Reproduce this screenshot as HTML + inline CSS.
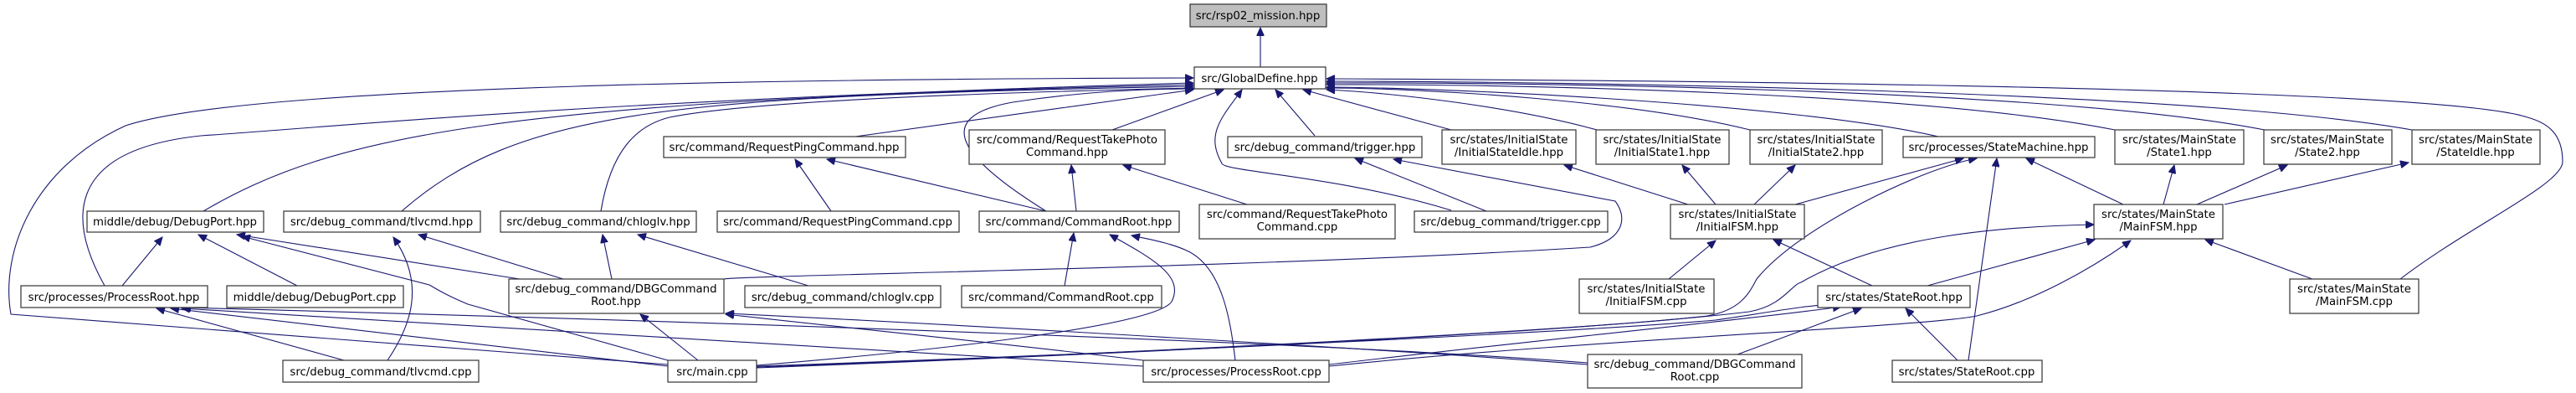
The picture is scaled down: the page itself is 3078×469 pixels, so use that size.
<!DOCTYPE html>
<html><head><meta charset="utf-8">
<style>
html,body{margin:0;padding:0;background:#fff;}
svg{display:block;}
text{font-family:"DejaVu Sans","Liberation Sans",sans-serif;font-size:13.3px;fill:#000;}
.n{fill:#fff;stroke:#333;stroke-width:1.2;}
.e{fill:none;stroke:#191970;stroke-width:1.1;}
</style></head><body>
<svg width="3078" height="469" viewBox="0 0 3078 469" xmlns="http://www.w3.org/2000/svg">
<defs>
<marker id="a" markerWidth="11" markerHeight="9" refX="10" refY="4.5" orient="auto" markerUnits="userSpaceOnUse">
<path d="M0,0 L10,4.5 L0,9 Z" fill="#191970" stroke="#191970"/>
</marker>
</defs>
<g class="e" marker-end="url(#a)">
<path d="M1506,80 L1506,33"/>
<!-- to GlobalDefine left -->
<path d="M798,435 L13,375 C0,300 40,200 150,150 C300,100 1000,94 1426,93"/>
<path d="M125,341 C85,270 70,180 240,162 C420,150 700,120 1426,99"/>
<path d="M243,252 C400,160 600,120 1426,101"/>
<path d="M480,252 C620,130 800,115 1426,103"/>
<path d="M718,252 C730,180 760,150 800,140 C900,120 1200,110 1426,105"/>
<path d="M1022,163 L1426,107"/>
<path d="M1250,252 C1150,190 1110,140 1210,122 C1300,108 1380,106 1426,106"/>
<path d="M1329,155 L1462,107"/>
<path d="M1734,251 C1600,210 1462,205 1460,195 C1440,160 1460,140 1484,107"/>
<path d="M1571,162 L1524,107"/>
<path d="M1734,155 L1557,107"/>
<!-- to GlobalDefine right -->
<path d="M1908,155 C1800,125 1650,110 1585,107"/>
<path d="M2091,155 C1950,120 1700,105 1585,105"/>
<path d="M2316,163 C2150,125 1750,105 1585,104"/>
<path d="M2527,155 C2300,110 1800,100 1585,101"/>
<path d="M2706,155 C2450,105 1800,98 1585,99"/>
<path d="M2882,155 C2600,105 1800,97 1585,97"/>
<path d="M2868,333 C2950,270 3062,220 3062,193 C3062,160 3045,147 3020,140 C2900,100 1800,95 1585,94"/>
<!-- second level -->
<path d="M993,252 L950,190"/>
<path d="M1250,252 L988,190"/>
<path d="M1286,252 L1280,197"/>
<path d="M1490,244 L1342,197"/>
<path d="M1776,252 L1619,189"/>
<path d="M865,333 C900,328 1500,320 1900,295 C1940,285 1945,260 1930,240 L1665,190"/>
<path d="M2017,244 L1869,197"/>
<path d="M2050,244 L2010,197"/>
<path d="M2096,244 L2145,197"/>
<path d="M2145,244 L2346,189"/>
<path d="M1994,333 L2050,287"/>
<path d="M2537,244 L2421,189"/>
<path d="M2585,244 L2598,197"/>
<path d="M2625,244 L2733,197"/>
<path d="M2658,244 L2878,194"/>
<path d="M2237,341 L2119,286"/>
<path d="M2303,341 L2503,286"/>
<path d="M2763,333 L2635,286"/>
<path d="M2339,430 L2277,368"/>
<path d="M2352,430 L2386,189"/>
<path d="M2076,423 L2224,368"/>
<!-- main.cpp / ProcessRoot.cpp to state stuff -->
<path d="M904,437 C1400,420 1900,395 2050,382 C2100,375 2170,362 2190,364"/>
<path d="M904,438 C1400,420 1900,393 2040,377 C2080,370 2090,350 2099,333 C2150,270 2300,200 2362,189"/>
<path d="M904,439 C1400,420 1900,395 2090,372 C2130,365 2140,340 2152,337 C2250,280 2400,270 2502,268"/>
<path d="M1588,435 C1800,410 2100,380 2200,366"/>
<path d="M1588,437 C1900,405 2300,390 2362,377 C2430,360 2500,320 2546,287"/>
<!-- left side -->
<path d="M146,341 L194,283"/>
<path d="M355,341 L237,280"/>
<path d="M621,333 L283,280"/>
<path d="M798,430 L559,363 C540,355 530,350 513,340 L289,282"/>
<path d="M673,333 L500,280"/>
<path d="M463,430 C490,390 510,340 470,283"/>
<path d="M731,333 L720,280"/>
<path d="M966,341 L762,280"/>
<path d="M834,430 L765,375"/>
<path d="M1897,435 C1700,420 1200,390 867,374"/>
<path d="M1366,430 C1200,410 1000,390 867,375"/>
<path d="M1272,341 L1283,278"/>
<path d="M904,436 C1100,420 1380,390 1400,360 C1415,330 1380,310 1326,280"/>
<path d="M1476,430 C1470,380 1460,320 1420,300 C1400,290 1370,285 1352,281"/>
<path d="M411,430 L187,368"/>
<path d="M798,437 L204,368"/>
<path d="M1366,437 L217,368"/>
<path d="M1897,433 C1600,410 900,385 218,367"/>
</g>
<g>
<rect class="n" x="1422" y="5" width="163" height="27" style="fill:#bfbfbf"/><text x="1503" y="23" text-anchor="middle">src/rsp02_mission.hpp</text>
<rect class="n" x="1427" y="80" width="157" height="26"/><text x="1505" y="98" text-anchor="middle">src/GlobalDefine.hpp</text>

<rect class="n" x="793" y="163" width="289" height="25"/><text x="937" y="180" text-anchor="middle">src/command/RequestPingCommand.hpp</text>
<rect class="n" x="1158" y="155" width="234" height="41"/><text x="1275" y="171" text-anchor="middle">src/command/RequestTakePhoto</text><text x="1275" y="186" text-anchor="middle">Command.hpp</text>
<rect class="n" x="1467" y="163" width="232" height="25"/><text x="1583" y="180" text-anchor="middle">src/debug_command/trigger.hpp</text>
<rect class="n" x="1723" y="155" width="160" height="41"/><text x="1803" y="171" text-anchor="middle">src/states/InitialState</text><text x="1803" y="186" text-anchor="middle">/InitialStateIdle.hpp</text>
<rect class="n" x="1907" y="155" width="159" height="41"/><text x="1986" y="171" text-anchor="middle">src/states/InitialState</text><text x="1986" y="186" text-anchor="middle">/InitialState1.hpp</text>
<rect class="n" x="2091" y="155" width="158" height="41"/><text x="2170" y="171" text-anchor="middle">src/states/InitialState</text><text x="2170" y="186" text-anchor="middle">/InitialState2.hpp</text>
<rect class="n" x="2274" y="163" width="229" height="25"/><text x="2388" y="180" text-anchor="middle">src/processes/StateMachine.hpp</text>
<rect class="n" x="2527" y="155" width="154" height="41"/><text x="2604" y="171" text-anchor="middle">src/states/MainState</text><text x="2604" y="186" text-anchor="middle">/State1.hpp</text>
<rect class="n" x="2705" y="155" width="153" height="41"/><text x="2781" y="171" text-anchor="middle">src/states/MainState</text><text x="2781" y="186" text-anchor="middle">/State2.hpp</text>
<rect class="n" x="2882" y="155" width="153" height="41"/><text x="2958" y="171" text-anchor="middle">src/states/MainState</text><text x="2958" y="186" text-anchor="middle">/StateIdle.hpp</text>

<rect class="n" x="104" y="252" width="211" height="25"/><text x="209" y="269" text-anchor="middle">middle/debug/DebugPort.hpp</text>
<rect class="n" x="339" y="252" width="235" height="25"/><text x="456" y="269" text-anchor="middle">src/debug_command/tlvcmd.hpp</text>
<rect class="n" x="598" y="252" width="234" height="25"/><text x="715" y="269" text-anchor="middle">src/debug_command/chloglv.hpp</text>
<rect class="n" x="857" y="252" width="289" height="25"/><text x="1001" y="269" text-anchor="middle">src/command/RequestPingCommand.cpp</text>
<rect class="n" x="1170" y="252" width="239" height="25"/><text x="1289" y="269" text-anchor="middle">src/command/CommandRoot.hpp</text>
<rect class="n" x="1433" y="244" width="234" height="41"/><text x="1550" y="260" text-anchor="middle">src/command/RequestTakePhoto</text><text x="1550" y="275" text-anchor="middle">Command.cpp</text>
<rect class="n" x="1690" y="252" width="231" height="25"/><text x="1805" y="269" text-anchor="middle">src/debug_command/trigger.cpp</text>
<rect class="n" x="1996" y="244" width="160" height="41"/><text x="2076" y="260" text-anchor="middle">src/states/InitialState</text><text x="2076" y="275" text-anchor="middle">/InitialFSM.hpp</text>
<rect class="n" x="2502" y="244" width="154" height="41"/><text x="2579" y="260" text-anchor="middle">src/states/MainState</text><text x="2579" y="275" text-anchor="middle">/MainFSM.hpp</text>

<rect class="n" x="25" y="341" width="223" height="26"/><text x="136" y="359" text-anchor="middle">src/processes/ProcessRoot.hpp</text>
<rect class="n" x="271" y="341" width="211" height="26"/><text x="376" y="359" text-anchor="middle">middle/debug/DebugPort.cpp</text>
<rect class="n" x="608" y="333" width="257" height="41"/><text x="736" y="349" text-anchor="middle">src/debug_command/DBGCommand</text><text x="736" y="364" text-anchor="middle">Root.hpp</text>
<rect class="n" x="890" y="341" width="234" height="26"/><text x="1007" y="359" text-anchor="middle">src/debug_command/chloglv.cpp</text>
<rect class="n" x="1149" y="341" width="239" height="26"/><text x="1268" y="359" text-anchor="middle">src/command/CommandRoot.cpp</text>
<rect class="n" x="1887" y="333" width="161" height="41"/><text x="1967" y="349" text-anchor="middle">src/states/InitialState</text><text x="1967" y="364" text-anchor="middle">/InitialFSM.cpp</text>
<rect class="n" x="2172" y="341" width="182" height="26"/><text x="2263" y="359" text-anchor="middle">src/states/StateRoot.hpp</text>
<rect class="n" x="2736" y="333" width="154" height="41"/><text x="2813" y="349" text-anchor="middle">src/states/MainState</text><text x="2813" y="364" text-anchor="middle">/MainFSM.cpp</text>

<rect class="n" x="338" y="430" width="234" height="26"/><text x="455" y="448" text-anchor="middle">src/debug_command/tlvcmd.cpp</text>
<rect class="n" x="798" y="430" width="106" height="26"/><text x="851" y="448" text-anchor="middle">src/main.cpp</text>
<rect class="n" x="1366" y="430" width="222" height="26"/><text x="1477" y="448" text-anchor="middle">src/processes/ProcessRoot.cpp</text>
<rect class="n" x="1897" y="423" width="256" height="40"/><text x="2025" y="439" text-anchor="middle">src/debug_command/DBGCommand</text><text x="2025" y="454" text-anchor="middle">Root.cpp</text>
<rect class="n" x="2261" y="430" width="179" height="26"/><text x="2350" y="448" text-anchor="middle">src/states/StateRoot.cpp</text>
</g>
</svg>
</body></html>
